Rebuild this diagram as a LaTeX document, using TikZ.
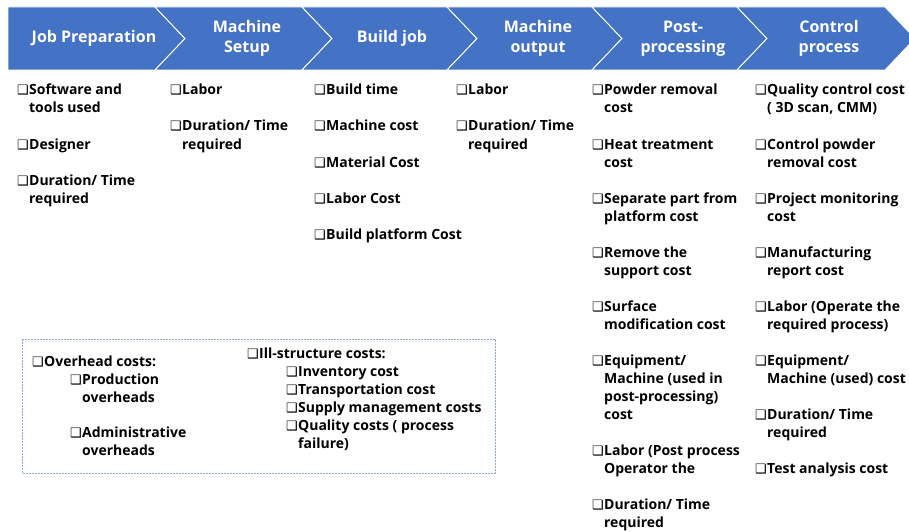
\documentclass[tikz,border=0pt]{standalone}
\usepackage{fontspec}
\setmainfont{Open Sans}
\newfontfamily\symfont{DejaVu Sans}
\definecolor{chev}{HTML}{4472C4}
\definecolor{dashc}{HTML}{8EA9D2}
\newcommand\cbox{{\symfont\bfseries\fontsize{13}{18}\selectfont ❑}}
\newcommand\itm[1]{\cbox\kern0.3pt\begin{tabular}[t]{@{}l@{}}#1\end{tabular}}
\tikzset{
  item/.style={anchor=base west, inner sep=0pt, font=\bfseries\fontsize{14}{18}\selectfont},
  head/.style={text=white, font=\bfseries\fontsize{16}{20}\selectfont, align=center, inner sep=0pt},
  chevshape/.style={fill=chev, draw=white, line width=0.9pt, line join=miter},
  otherbox/.style={draw=dashc, line width=0.9pt, dash pattern=on 2pt off 1pt}
}
\begin{document}
\begin{tikzpicture}[x=1pt,y=-1pt]
\useasboundingbox (0,0) rectangle (909,532);
\fill[white] (0,0) rectangle (909,532);
\begin{scope}
\clip (0,0) rectangle (909,532);
\draw[chevshape] (8,7) -- (155,7) -- (185,38.5) -- (155,70) -- (8,70) -- cycle;
\foreach \a/\b in {155/302,302/447,447/592,592/737}{
  \draw[chevshape] (\a,7) -- (\b,7) -- (\b+30,38.5) -- (\b,70) -- (\a,70) -- (\a+30,38.5) -- cycle;
}
\draw[chevshape] (737,7) -- (885,7) -- (915,38.5) -- (885,70) -- (737,70) -- (767,38.5) -- cycle;
\end{scope}
\node[head] (h1) at (94,38.5) {Job Preparation};
\node[head] (h2) at (247,38.5) {Machine\\Setup};
\node[head] (h3) at (392,38.5) {Build job};
\node[head] (h4) at (538,38.5) {Machine\\output};
\node[head] (h5) at (683,38.5) {Post-\\processing};
\node[head] (h6) at (829,38.5) {Control\\process};
% column 1
\node[item] (a1) at (17,95) {\itm{Software and\\tools used}};
\node[item] (a2) at (17,149) {\itm{Designer}};
\node[item] (a3) at (17,185) {\itm{Duration/ Time\\required}};
% column 2
\node[item] (b1) at (170,95) {\itm{Labor}};
\node[item] (b2) at (170,131) {\itm{Duration/ Time\\required}};
% column 3
\node[item] (c1) at (314,95) {\itm{Build time}};
\node[item] (c2) at (314,131) {\itm{Machine cost}};
\node[item] (c3) at (314,167) {\itm{Material Cost}};
\node[item] (c4) at (314,203) {\itm{Labor Cost}};
\node[item] (c5) at (314,239) {\itm{Build platform Cost}};
% column 4
\node[item] (d1) at (456,95) {\itm{Labor}};
\node[item] (d2) at (456,131) {\itm{Duration/ Time\\required}};
% column 5
\node[item] (e1) at (592,95) {\itm{Powder removal\\cost}};
\node[item] (e2) at (592,149) {\itm{Heat treatment\\cost}};
\node[item] (e3) at (592,203) {\itm{Separate part from\\platform cost}};
\node[item] (e4) at (592,257) {\itm{Remove the\\support cost}};
\node[item] (e5) at (592,311) {\itm{Surface\\modification cost}};
\node[item] (e6) at (592,365) {\itm{Equipment/\\Machine (used in\\post-processing)\\cost}};
\node[item] (e7) at (592,455) {\itm{Labor (Post process\\Operator the}};
\node[item] (e8) at (592,509) {\itm{Duration/ Time\\required}};
% column 6
\node[item] (f1) at (755,95) {\itm{Quality control cost\\( 3D scan, CMM)}};
\node[item] (f2) at (755,149) {\itm{Control powder\\removal cost}};
\node[item] (f3) at (755,203) {\itm{Project monitoring\\cost}};
\node[item] (f4) at (755,257) {\itm{Manufacturing\\report cost}};
\node[item] (f5) at (755,311) {\itm{Labor (Operate the\\required process)}};
\node[item] (f6) at (755,365) {\itm{Equipment/\\Machine (used) cost}};
\node[item] (f7) at (755,419) {\itm{Duration/ Time\\required}};
\node[item] (f8) at (755,473) {\itm{Test analysis cost}};
% other costs box
\draw[otherbox] (22,339) rectangle (495,473);
\node[item] (g1) at (32,366) {\itm{Overhead costs:}};
\node[item] (g2) at (70,384) {\itm{Production\\overheads}};
\node[item] (g3) at (70,437) {\itm{Administrative\\overheads}};
\node[item] (k1) at (247,358) {\itm{Ill-structure costs:}};
\node[item] (k2) at (286,376) {\itm{Inventory cost}};
\node[item] (k3) at (286,394) {\itm{Transportation cost}};
\node[item] (k4) at (286,412) {\itm{Supply management costs}};
\node[item] (k5) at (286,430) {\itm{Quality costs ( process\\failure)}};
\end{tikzpicture}
\end{document}
